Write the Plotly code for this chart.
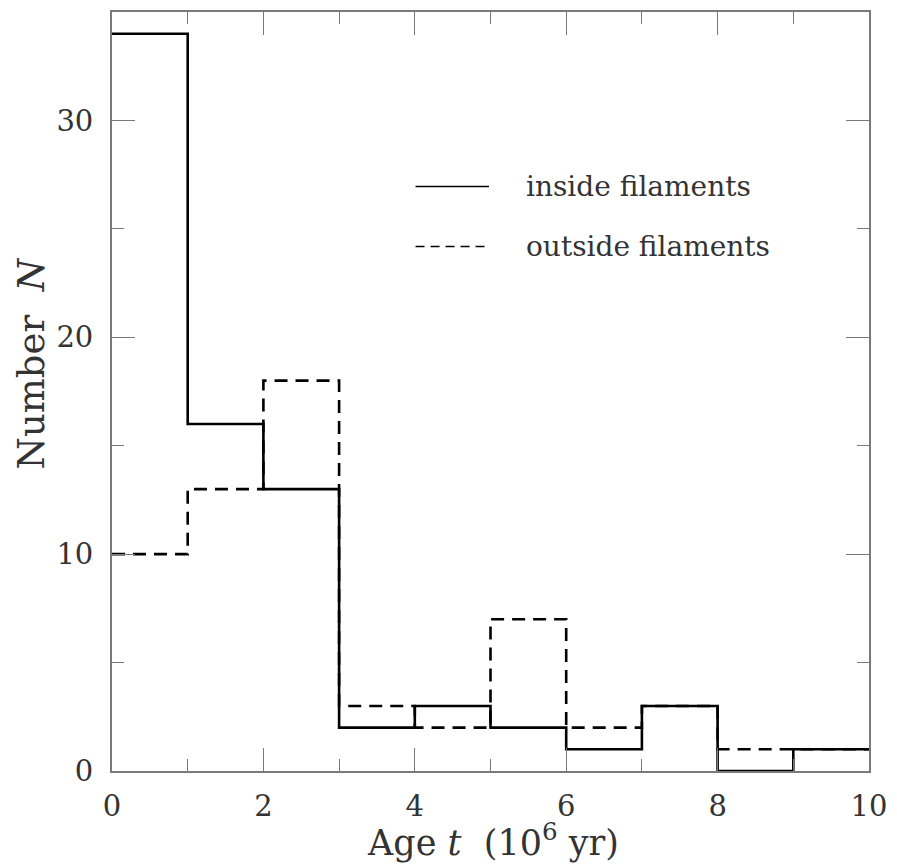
import plotly.graph_objects as go

# Bin edges (Age in 10^6 yr) and counts per bin
bin_edges = [0, 1, 2, 3, 4, 5, 6, 7, 8, 9, 10]
inside_counts = [34, 16, 13, 2, 3, 2, 1, 3, 0, 1]
outside_counts = [10, 13, 18, 3, 2, 7, 2, 3, 1, 1]
series_names = ["inside filaments", "outside filaments"]
x_tick_vals = [0, 2, 4, 6, 8, 10]
y_tick_vals = [0, 10, 20, 30]

FONT = "DejaVu Serif"
FRAME = "#7a7a7a"

def step_y(counts):
    return counts + [counts[-1]]

fig = go.Figure()
fig.add_trace(go.Scatter(
    x=bin_edges, y=step_y(inside_counts), mode="lines", line_shape="hv",
    line=dict(color="black", width=2.6), name=series_names[0], showlegend=False,
))
fig.add_trace(go.Scatter(
    x=bin_edges, y=step_y(outside_counts), mode="lines", line_shape="hv",
    line=dict(color="black", width=2.6, dash="13px,8px"), name=series_names[1],
    showlegend=False,
))

axis_common = dict(
    showgrid=False, zeroline=False, showline=True, linecolor=FRAME, linewidth=1.8,
    mirror="allticks", ticks="inside", ticklen=23, tickwidth=1.3, tickcolor=FRAME,
    tickfont=dict(family=FONT, size=29, color="#333"),
    layer="above traces",
)

fig.update_xaxes(
    range=[0, 10], tickvals=x_tick_vals, ticklabelstandoff=8,
    minor=dict(dtick=1, ticks="inside", ticklen=12, tickwidth=1.3, tickcolor=FRAME,
               showgrid=False),
    **axis_common,
)
fig.update_yaxes(
    range=[0, 35], tickvals=y_tick_vals, ticklabelstandoff=11,
    minor=dict(dtick=5, ticks="inside", ticklen=12, tickwidth=1.3, tickcolor=FRAME,
               showgrid=False),
    **axis_common,
)

# Legend drawn as keys + labels
legend_rows = [(0.770, "solid", series_names[0]), (0.691, "9px,6px", series_names[1])]
for yy, dash, label in legend_rows:
    fig.add_shape(type="line", xref="paper", yref="paper", x0=0.401, x1=0.498,
                  y0=yy, y1=yy, line=dict(color="black", width=1.6, dash=dash))
    fig.add_annotation(xref="paper", yref="paper", x=0.544, y=yy, text=label,
                       showarrow=False, xanchor="left", yanchor="middle",
                       font=dict(family=FONT, size=28, color="#333"))

# Axis titles
fig.add_annotation(xref="paper", yref="paper", x=0.503, y=-0.124,
                   text="Age <i>t</i>  (10<sup>6</sup> yr)", showarrow=False,
                   xanchor="center", yanchor="bottom",
                   font=dict(family=FONT, size=35, color="#333"))
fig.add_annotation(xref="paper", yref="paper", x=-0.107, y=0.537,
                   text="Number  <i>N</i>", showarrow=False, textangle=-90,
                   xanchor="center", yanchor="middle",
                   font=dict(family=FONT, size=37, color="#333"))

fig.update_layout(
    width=897, height=868,
    margin=dict(l=112, r=22, t=10, b=97),
    paper_bgcolor="white", plot_bgcolor="white",
)

fig.write_html("out.html")
